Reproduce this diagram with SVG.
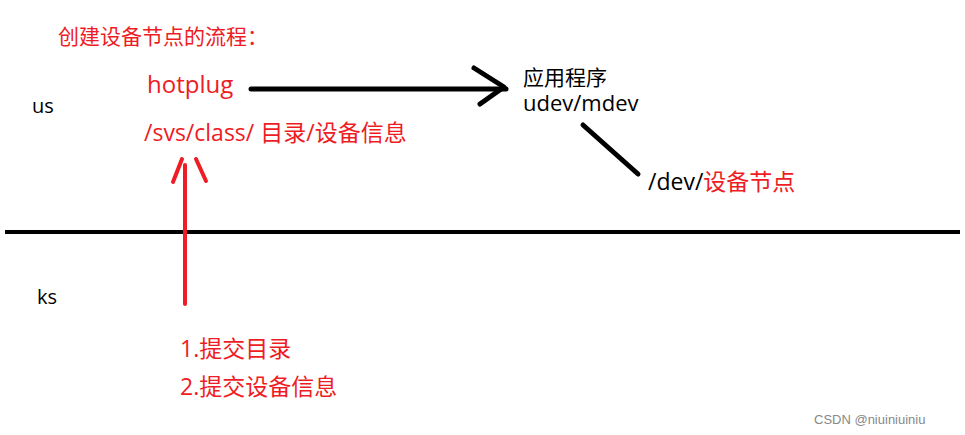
<svg xmlns="http://www.w3.org/2000/svg" width="965" height="435" viewBox="0 0 965 435">
<style>
text{font-family:"Open Sans","Noto Sans","Noto Sans CJK SC",sans-serif;font-size:23px}
.r{fill:#ee1c24}.k{fill:#000}
.ln{fill:none;stroke-linecap:round;stroke-linejoin:round}
</style>
<rect width="965" height="435" fill="#fff"/>
<text class="r" x="58" y="44" style="font-size:21px">创建设备节点的流程：</text>
<text class="k" x="32" y="113" style="font-size:20px">us</text>
<text class="k" x="37" y="304" style="font-size:20px">ks</text>
<g id="hotplug"><text class="r" x="147" y="93" style="font-size:24px">hotplug</text></g>
<g id="sys"><text class="r" x="144" y="141">/svs/class/ 目录/设备信息</text></g>
<g id="app"><text class="k" x="523" y="85" style="font-size:21px">应用程序</text><text class="k" x="523" y="111" style="font-size:22px">udev/mdev</text></g>
<g id="devnode"><text class="k" x="648" y="190">/dev/<tspan class="r">设备节点</tspan></text></g>
<g id="submit"><text class="r" x="180" y="357">1.提交目录</text><text class="r" x="180" y="395">2.提交设备信息</text></g>
<text x="814" y="424" style="font-size:13px;font-family:'Liberation Sans',sans-serif;fill:#888">CSDN @niuiniuiniu</text>
<g id="connectors">
<line x1="5" y1="232" x2="960" y2="232" stroke="#000" stroke-width="4"/>
<line class="ln" x1="251" y1="89" x2="506" y2="89" stroke="#000" stroke-width="5"/>
<polyline class="ln" points="474,68 504,87 480,104" stroke="#000" stroke-width="5"/>
<line class="ln" x1="583" y1="125" x2="638" y2="174" stroke="#000" stroke-width="5"/>
<line class="ln" x1="185" y1="165" x2="185" y2="304" stroke="#ee1c24" stroke-width="4"/>
<line class="ln" x1="173" y1="182" x2="182" y2="159" stroke="#ee1c24" stroke-width="4"/>
<line class="ln" x1="196" y1="159" x2="206" y2="181" stroke="#ee1c24" stroke-width="4"/>
</g>
</svg>
